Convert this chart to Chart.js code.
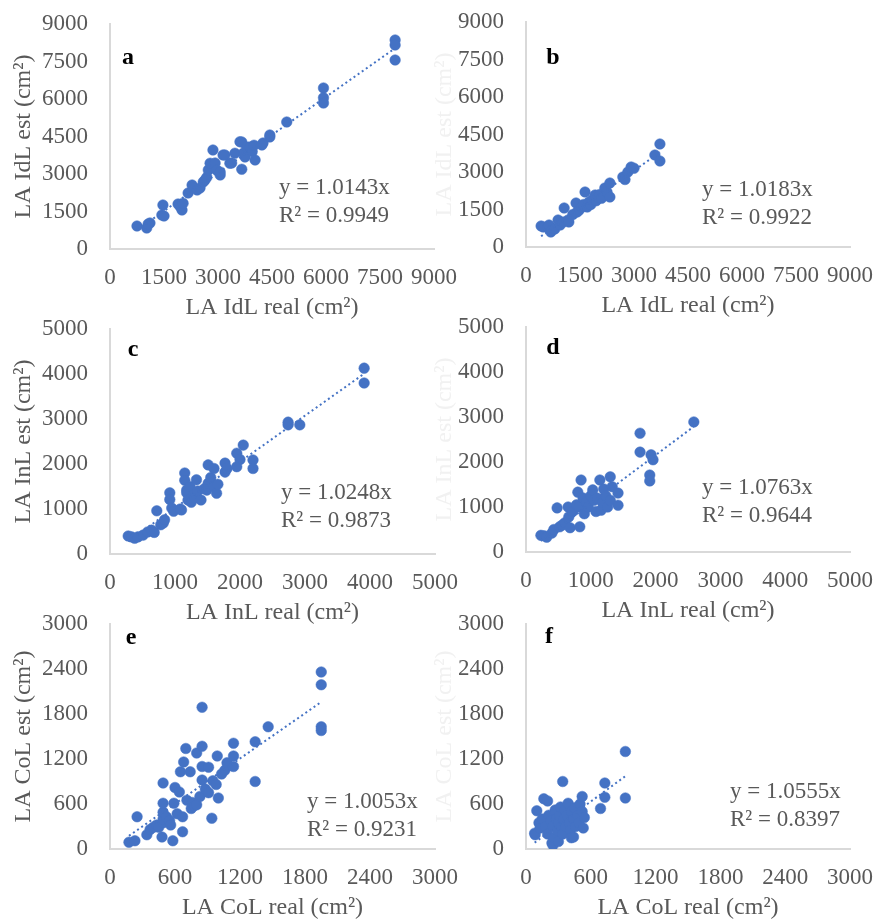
<!DOCTYPE html>
<html><head><meta charset="utf-8">
<script src="https://cdn.jsdelivr.net/npm/chart.js@4.4.1/dist/chart.umd.min.js"></script>
<style>
html,body{margin:0;padding:0;background:#fff;}
body{width:877px;height:923px;position:relative;overflow:hidden;}
canvas{position:absolute;}
</style></head><body>
<script>
// ---- tick labels ----
const IDL_TICKS = [0, 1500, 3000, 4500, 6000, 7500, 9000];
const INL_TICKS = [0, 1000, 2000, 3000, 4000, 5000];
const COL_TICKS = [0, 600, 1200, 1800, 2400, 3000];

// ---- panel a: IdL ----
const A_REAL = [750,1020,1110,1060,1470,1440,1500,1890,1950,2000,2030,2170,2280,2420,2500,2590,2640,2690,2730,2780,2860,2920,2960,3060,3060,3140,3190,3330,3380,3470,3610,3660,3660,3710,3750,3800,3890,3950,4000,4030,4220,4250,4440,4440,4910,5930,5930,5930,7920,7920,7920];
const A_EST  = [920,840,1040,1000,1760,1360,1320,1800,1700,1560,1830,2240,2560,2360,2440,2680,2760,2870,3160,3430,3960,3440,3160,2960,3080,3760,3760,3430,3440,3830,4290,3190,4280,3840,3680,4080,4080,3900,4150,3560,4160,4240,4480,4560,5080,6440,6050,5840,8360,8160,7560];
// ---- panel b: IdL ----
const B_REAL = [420,480,610,640,690,720,800,890,950,1030,1060,1170,1190,1300,1390,1420,1480,1550,1600,1640,1700,1750,1800,1850,1920,1950,2000,2050,2100,2190,2250,2330,2330,2690,2750,2830,2920,3000,3580,3720,3720];
const B_EST  = [840,800,800,880,600,680,720,1080,880,1000,1560,1080,1000,1300,1760,1400,1480,1600,1700,2200,1600,1800,1700,1900,2080,1850,2000,2100,1950,2360,2200,2560,2000,2800,2700,3000,3200,3150,3680,4120,3440];
// ---- panel c: InL ----
const C_REAL = [280,330,380,430,510,580,640,680,720,780,820,840,920,920,950,980,1080,1100,1150,1150,1180,1180,1200,1230,1250,1280,1300,1330,1350,1400,1450,1490,1510,1510,1550,1600,1600,1640,1660,1770,1770,1800,1950,1950,2000,2050,2200,2200,2740,2740,2920,3910,3910];
const C_EST  = [400,380,350,380,420,490,530,480,960,650,690,760,1360,1210,1020,950,1000,980,1800,1640,1420,1360,1200,1500,1150,1300,1250,1650,1400,1200,1450,1420,1980,1570,1700,1900,1500,1350,1550,2020,1820,1900,2240,1940,2100,2420,2090,1900,2930,2870,2870,4130,3800];
// ---- panel d: InL ----
const D_REAL = [230,280,320,400,430,480,520,560,600,650,660,680,720,780,800,820,830,850,880,900,930,960,1000,1030,1050,1080,1100,1140,1160,1180,1200,1230,1260,1300,1300,1330,1420,1420,1760,1760,1910,1910,1930,1960,2590];
const D_EST  = [370,360,330,420,500,980,560,600,650,1000,780,540,900,1050,1330,1000,560,1600,1200,850,1100,1000,1250,1380,1150,900,1200,1600,930,1100,1400,1250,1000,1670,1150,1450,1310,1040,2640,2220,1710,1580,2160,2050,2890];
// ---- panel e: CoL ----
const E_REAL = [175,230,250,340,370,400,430,450,480,490,490,490,490,490,520,550,560,580,590,600,620,640,650,670,670,680,700,710,740,750,760,780,800,800,830,850,850,850,850,880,910,910,940,950,980,990,1000,1030,1060,1080,1140,1140,1140,1340,1340,1460,1950,1950,1950,1950];
const E_EST  = [90,110,430,190,260,290,320,290,160,350,400,490,610,880,430,380,320,110,610,820,470,760,1030,230,430,1160,1340,650,1030,540,620,580,1280,590,700,1890,1370,1100,920,800,1090,750,410,910,860,1240,680,1000,1050,1150,1410,1240,1100,1430,900,1630,2360,2190,1630,1580];
// ---- panel f: CoL ----
const F_REAL = [80,85,100,120,130,150,165,200,180,200,210,230,240,250,250,260,270,280,290,300,300,310,320,330,340,340,350,360,370,380,390,400,410,420,420,440,440,450,460,480,490,500,520,520,530,540,690,730,730,920,920];
const F_EST  = [210,190,510,350,280,400,670,640,300,200,450,380,80,50,300,150,520,400,250,350,100,450,560,300,900,200,400,520,300,450,610,350,250,500,150,160,400,550,300,450,350,600,700,500,280,420,540,880,690,1300,680];

// ---- regression text ----
const SLOPES = [1.0143, 1.0183, 1.0248, 1.0763, 1.0053, 1.0555];
const R2 = ['0.9949', '0.9922', '0.9873', '0.9644', '0.9231', '0.8397'];
const LETTERS = ['a', 'b', 'c', 'd', 'e', 'f'];
const X_TITLES = ['LA IdL real (cm²)', 'LA IdL real (cm²)', 'LA InL real (cm²)', 'LA InL real (cm²)', 'LA CoL real (cm²)', 'LA CoL real (cm²)'];
const Y_TITLES = ['LA IdL est (cm²)', 'LA IdL est (cm²)', 'LA InL est (cm²)', 'LA InL est (cm²)', 'LA CoL est (cm²)', 'LA CoL est (cm²)'];

const REALS = [A_REAL, B_REAL, C_REAL, D_REAL, E_REAL, F_REAL];
const ESTS = [A_EST, B_EST, C_EST, D_EST, E_EST, F_EST];
const TICKS = [IDL_TICKS, IDL_TICKS, INL_TICKS, INL_TICKS, COL_TICKS, COL_TICKS];

// ---- layout (page pixels) ----
const LAYOUT = [
  {cl:0,   l:110, t:24,  r:434, b:249, lx:18, ly:34, ex:169, ey:164, yc:'#595959', tp:9},
  {cl:430, l:526, t:22,  r:850, b:247, lx:27, ly:36, ex:176, ey:168, yc:'#f1f1f1', tp:0},
  {cl:0,   l:110, t:329, r:435, b:554, lx:23, ly:21, ex:171, ey:164, yc:'#595959', tp:9},
  {cl:430, l:526, t:327, r:850, b:552, lx:27, ly:21, ex:176, ey:161, yc:'#f1f1f1', tp:0},
  {cl:0,   l:110, t:624, r:435, b:849, lx:21, ly:14, ex:197, ey:178, yc:'#595959', tp:9},
  {cl:430, l:526, t:624, r:850, b:849, lx:23, ly:13, ex:204, ey:168, yc:'#f1f1f1', tp:0}
];
const FAMILY = '"Liberation Serif", "Times New Roman", serif';
const BLUE = '#4472C4';
const GREY = '#595959';
const PAD_T = 40, PAD_R = 40, XH = 75;

const annot = {
  id: 'annot',
  afterDraw(chart, args, o) {
    const {ctx, chartArea: ca} = chart;
    ctx.save();
    ctx.font = 'bold 24px ' + FAMILY;
    ctx.fillStyle = '#000';
    ctx.textAlign = 'center';
    ctx.textBaseline = 'middle';
    ctx.fillText(o.letter, ca.left + o.lx, ca.top + o.ly);
    ctx.font = '23px ' + FAMILY;
    ctx.fillStyle = GREY;
    ctx.textAlign = 'left';
    ctx.fillText('y = ' + o.slope.toFixed(4) + 'x', ca.left + o.ex, ca.top + o.ey);
    ctx.fillText('R² = ' + o.r2, ca.left + o.ex, ca.top + o.ey + 28);
    ctx.restore();
  }
};

LAYOUT.forEach((L, i) => {
  const top = L.t - PAD_T;
  const w = L.r - L.cl + PAD_R;
  const h = L.b - top + XH;
  const cv = document.createElement('canvas');
  cv.width = w; cv.height = h;
  cv.style.left = L.cl + 'px'; cv.style.top = top + 'px';
  cv.style.width = w + 'px'; cv.style.height = h + 'px';
  document.body.appendChild(cv);

  const xs = REALS[i], ys = ESTS[i];
  const pts = xs.map((x, k) => ({x: x, y: ys[k]}));
  const xmin = Math.min(...xs), xmax = Math.max(...xs);
  const trend = [{x: xmin, y: SLOPES[i] * xmin}, {x: xmax, y: SLOPES[i] * xmax}];
  const tk = TICKS[i];
  const yW = L.l - L.cl;

  new Chart(cv, {
    type: 'scatter',
    data: {
      datasets: [
        {data: trend, showLine: true, borderColor: BLUE, borderWidth: 2, borderDash: [2, 3], pointRadius: 0, fill: false},
        {data: pts, pointRadius: 5.3, pointBackgroundColor: BLUE, pointBorderColor: BLUE, pointBorderWidth: 0.5, showLine: false}
      ]
    },
    options: {
      responsive: false,
      devicePixelRatio: 1,
      animation: false,
      layout: {padding: {left: 0, top: PAD_T, right: PAD_R, bottom: 0}},
      plugins: {
        legend: {display: false},
        tooltip: {enabled: false},
        annot: {letter: LETTERS[i], slope: SLOPES[i], r2: R2[i], lx: L.lx, ly: L.ly, ex: L.ex, ey: L.ey}
      },
      scales: {
        x: {
          type: 'linear', min: tk[0], max: tk[tk.length - 1],
          afterBuildTicks: s => { s.ticks = tk.map(v => ({value: v})); },
          afterFit: s => { s.height = XH; },
          grid: {display: false, drawTicks: false},
          border: {display: true, color: '#d9d9d9', width: 2},
          ticks: {padding: 15, color: GREY, autoSkip: false, maxRotation: 0, callback: v => String(v), font: {size: 23, family: FAMILY}},
          title: {display: true, text: X_TITLES[i], color: GREY, font: {size: 24, family: FAMILY}, padding: {top: 0, bottom: 2}}
        },
        y: {
          type: 'linear', min: tk[0], max: tk[tk.length - 1],
          afterBuildTicks: s => { s.ticks = tk.map(v => ({value: v})); },
          afterFit: s => { s.width = yW; },
          grid: {display: false, drawTicks: false},
          border: {display: true, color: '#d9d9d9', width: 2},
          ticks: {padding: 22, color: GREY, autoSkip: false, callback: v => String(v), font: {size: 23, family: FAMILY}},
          title: {display: true, text: Y_TITLES[i], color: L.yc, font: {size: 24, family: FAMILY}, padding: {top: L.tp, bottom: 0}}
        }
      }
    },
    plugins: [annot]
  });
});
</script>
</body></html>
